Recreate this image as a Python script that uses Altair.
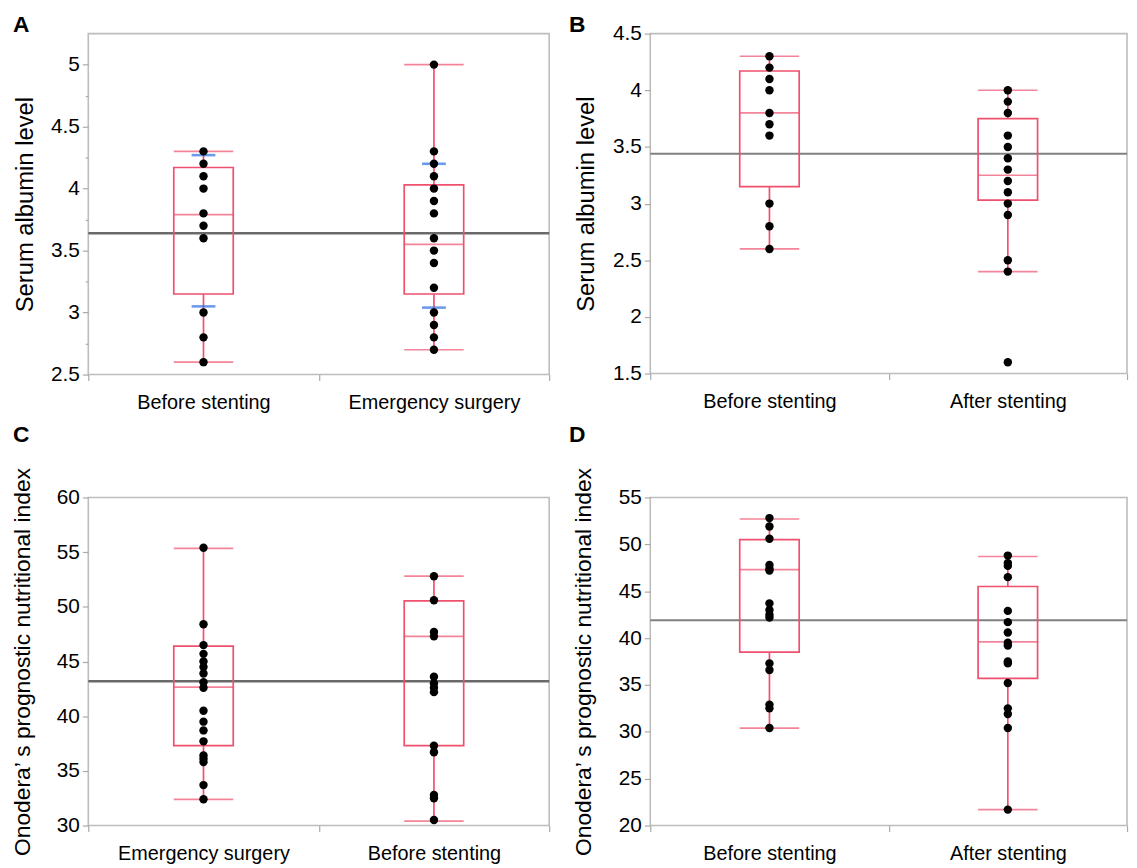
import altair as alt
import pandas as pd

# ---------------- data ----------------
A_CATS = ["Before stenting", "Emergency surgery"]
A_BEFORE = [4.3, 4.2, 4.1, 4.0, 3.8, 3.7, 3.6, 3.0, 2.8, 2.6]
A_EMERG = [5.0, 4.3, 4.2, 4.1, 4.0, 3.9, 3.8, 3.6, 3.5, 3.4, 3.2, 3.0, 2.9, 2.8, 2.7]
A_Q1 = [3.15, 3.15]
A_MED = [3.79, 3.55]
A_Q3 = [4.17, 4.03]
A_LO = [2.6, 2.7]
A_HI = [4.3, 5.0]
A_SD_LO = [3.05, 3.04]
A_SD_HI = [4.27, 4.20]
A_MEAN = 3.64

B_CATS = ["Before stenting", "After stenting"]
B_BEFORE = [4.3, 4.2, 4.1, 4.0, 3.8, 3.7, 3.6, 3.0, 2.8, 2.6]
B_AFTER = [4.0, 3.9, 3.8, 3.6, 3.5, 3.4, 3.3, 3.2, 3.1, 3.0, 2.9, 2.5, 2.4, 1.6]
B_Q1 = [3.15, 3.03]
B_MED = [3.80, 3.25]
B_Q3 = [4.17, 3.75]
B_LO = [2.6, 2.4]
B_HI = [4.3, 4.0]
B_MEAN = 3.44

C_CATS = ["Emergency surgery", "Before stenting"]
C_EMERG = [55.4, 48.4, 46.5, 45.7, 45.0, 44.5, 43.9, 43.1, 42.6, 40.5, 39.5,
           38.7, 37.7, 36.4, 36.1, 35.8, 33.7, 32.4]
C_BEFORE = [52.8, 50.6, 47.7, 47.3, 43.6, 43.0, 42.6, 42.2, 37.3, 36.7, 32.8, 32.5, 30.5]
C_Q1 = [37.3, 37.3]
C_MED = [42.65, 47.3]
C_Q3 = [46.4, 50.55]
C_LO = [32.4, 30.4]
C_HI = [55.35, 52.8]
C_MEAN = 43.2

D_CATS = ["Before stenting", "After stenting"]
D_BEFORE = [52.8, 51.9, 50.6, 47.8, 47.4, 47.2, 43.7, 43.0, 42.5, 42.2, 37.3,
            36.6, 32.9, 32.5, 30.4]
D_AFTER = [48.8, 48.0, 47.7, 46.5, 42.9, 41.7, 40.6, 39.5, 39.2, 37.5, 37.3,
           35.2, 32.5, 31.9, 30.4, 21.7]
D_Q1 = [38.5, 35.7]
D_MED = [47.3, 39.6]
D_Q3 = [50.5, 45.5]
D_LO = [30.4, 21.7]
D_HI = [52.7, 48.7]
D_MEAN = 41.9

# ---------------- styling ----------------
FONT = "Liberation Sans"
RED = "#f0506e"
BLUE = "#2e6fe3"
BOXW = 60


def panel(letter, cats, groups, q1, med, q3, lo, hi, mean, ydomain, yvalues,
          ytitle, width, height, letter_xy, title_pad, title_size=24, sd=None,
          minor=False, mean_width=2.0, mean_color="#808080"):
    pts = pd.DataFrame(
        [{"group": c, "value": v} for c, vals in zip(cats, groups) for v in vals]
    )
    stats = pd.DataFrame({"group": cats, "q1": q1, "med": med, "q3": q3,
                          "lo": lo, "hi": hi})
    meandf = pd.DataFrame({"group": [cats[0]], "mean": [mean]})
    letterdf = pd.DataFrame({"t": [letter]})

    xscale = alt.Scale(domain=cats, paddingInner=0, paddingOuter=0)
    yscale = alt.Scale(domain=ydomain, nice=False, zero=False)

    if minor:
        label_expr = "(datum.value*4) % 2 == 0 ? '' + datum.value : ''"
        tick_size = {"condition": {"test": "(datum.value*4) % 2 != 0", "value": 3},
                     "value": 6}
    else:
        label_expr = "'' + datum.value"
        tick_size = 6

    yaxis = alt.Axis(values=yvalues, title=ytitle, labelExpr=label_expr,
                     tickSize=tick_size, grid=False, domain=False,
                     labelFontSize=21, titleFontSize=title_size,
                     titleFontWeight="normal", labelPadding=3,
                     titlePadding=title_pad)
    xaxis = alt.Axis(title=None, labelAngle=0, labelFontSize=20, tickBand="extent",
                     tickSize=6, domain=False, grid=False, labelPadding=12)

    def X():
        return alt.X("group:N", scale=xscale, axis=xaxis, title=None)

    def Y(f):
        return alt.Y(f, scale=yscale, axis=yaxis, title=ytitle)

    points = alt.Chart(pts).mark_circle(size=72, color="black", opacity=1).encode(
        x=X(), y=Y("value:Q"))
    box = alt.Chart(stats).mark_bar(width=BOXW, fillOpacity=0, stroke=RED,
                                    strokeWidth=1.7).encode(
        x=X(), y=Y("q1:Q"), y2="q3:Q")
    whisk_lo = alt.Chart(stats).mark_rule(color=RED, strokeWidth=1.7).encode(
        x=X(), y=Y("lo:Q"), y2="q1:Q")
    whisk_hi = alt.Chart(stats).mark_rule(color=RED, strokeWidth=1.7).encode(
        x=X(), y=Y("q3:Q"), y2="hi:Q")
    ticks = []
    for col in ["med", "lo", "hi"]:
        ticks.append(alt.Chart(stats).mark_tick(size=BOXW, thickness=1.7, color=RED,
                                                orient="horizontal").encode(
            x=X(), y=Y(f"{col}:Q")))
    meanrule = alt.Chart(meandf).mark_rule(color=mean_color,
                                           strokeWidth=mean_width).encode(
        y=Y("mean:Q"))
    lettertext = alt.Chart(letterdf).mark_text(
        font=FONT, fontSize=23, fontWeight="bold", align="left",
        baseline="middle", color="black").encode(
        text="t:N", x=alt.value(letter_xy[0]), y=alt.value(letter_xy[1]))

    layers = [meanrule, whisk_lo, whisk_hi, box] + ticks
    if sd is not None:
        sddf = pd.DataFrame({"group": cats, "sdlo": sd[0], "sdhi": sd[1]})
        for col in ["sdlo", "sdhi"]:
            layers.append(alt.Chart(sddf).mark_tick(size=24, thickness=2.6,
                                                    color=BLUE,
                                                    orient="horizontal").encode(
                x=X(), y=Y(f"{col}:Q")))
    layers += [points, lettertext]
    return alt.layer(*layers).properties(width=width, height=height)


pA = panel("A", A_CATS, [A_BEFORE, A_EMERG], A_Q1, A_MED, A_Q3, A_LO, A_HI, A_MEAN,
           [2.5, 5.25], [2.5, 2.75, 3, 3.25, 3.5, 3.75, 4, 4.25, 4.5, 4.75, 5],
           "Serum albumin level", 465, 344, (-76, -9), 13,
           sd=(A_SD_LO, A_SD_HI), minor=True, mean_width=2.6, mean_color="#6a6a6a")
pB = panel("B", B_CATS, [B_BEFORE, B_AFTER], B_Q1, B_MED, B_Q3, B_LO, B_HI, B_MEAN,
           [1.5, 4.5], [1.5, 2, 2.5, 3, 3.5, 4, 4.5],
           "Serum albumin level", 481, 343, (-82, -9), 14)
pC = panel("C", C_CATS, [C_EMERG, C_BEFORE], C_Q1, C_MED, C_Q3, C_LO, C_HI, C_MEAN,
           [30, 60], [30, 35, 40, 45, 50, 55, 60],
           "Onodera\u2019 s prognostic nutritional index", 465, 331, (-76, -63), 22,
           title_size=23, mean_width=2.6, mean_color="#6a6a6a")
pD = panel("D", D_CATS, [D_BEFORE, D_AFTER], D_Q1, D_MED, D_Q3, D_LO, D_HI, D_MEAN,
           [20, 55], [20, 25, 30, 35, 40, 45, 50, 55],
           "Onodera\u2019 s prognostic nutritional index", 481, 331, (-82, -63), 23,
           title_size=23)

chart = alt.concat(pA, pB, pC, pD, columns=2,
                   spacing={"row": 124, "column": 102}, bounds="flush").properties(
    padding={"left": 2, "top": 1, "right": 0, "bottom": 0}
).configure_view(stroke="#bdbdbd", strokeWidth=1.6).configure_axis(
    labelFont=FONT, titleFont=FONT, labelColor="black", titleColor="black",
    tickColor="#aaaaaa", tickWidth=1.2
)

chart.save("out.html", embed_options={"renderer": "svg", "actions": False})
